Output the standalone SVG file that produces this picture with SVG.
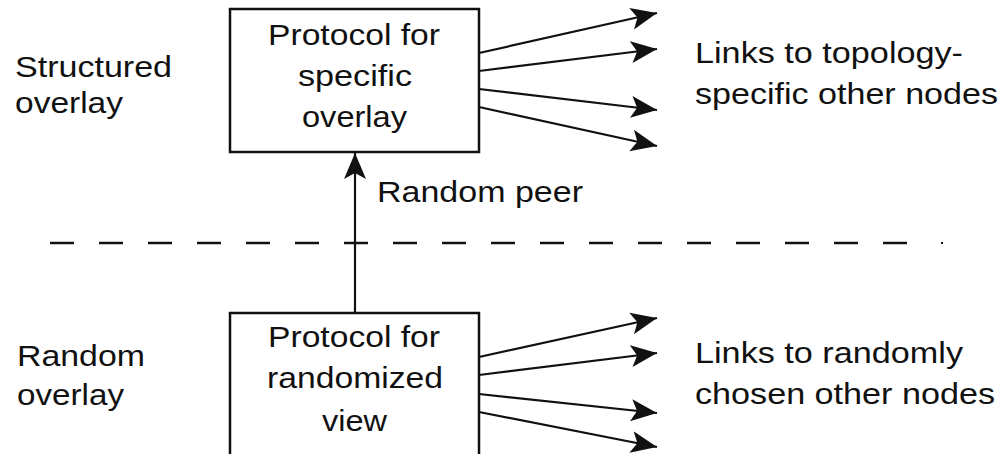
<svg xmlns="http://www.w3.org/2000/svg" width="1005" height="454" viewBox="0 0 1005 454">
<style>
  text { font-family: "Liberation Sans", Arial, sans-serif; font-size: 30px; fill: #111; }
  .box { fill: #fff; stroke: #111; stroke-width: 2.5; }
  .link { stroke: #111; stroke-width: 2.2; fill: none; marker-end: url(#ah); }
  .dash { stroke: #111; stroke-width: 2.5; stroke-dasharray: 24 25; fill: none; }
</style>
<defs>
  <marker id="ah" markerUnits="userSpaceOnUse" markerWidth="28" markerHeight="24" viewBox="0 0 28 24" refX="26" refY="12" orient="auto">
    <path d="M0,1 L26,12 L0,23 L6,12 z" fill="#111"/>
  </marker>
</defs>
<rect width="1005" height="454" fill="#fff"/>

<g id="label-structured">
  <text x="15" y="77" textLength="157" lengthAdjust="spacingAndGlyphs">Structured</text>
  <text x="15" y="113" textLength="108" lengthAdjust="spacingAndGlyphs">overlay</text>
</g>
<g id="label-random">
  <text x="17" y="366" textLength="128" lengthAdjust="spacingAndGlyphs">Random</text>
  <text x="17" y="405" textLength="107" lengthAdjust="spacingAndGlyphs">overlay</text>
</g>

<g id="node-specific">
  <rect class="box" x="230" y="9" width="249" height="143"/>
  <text x="268" y="45" textLength="172" lengthAdjust="spacingAndGlyphs">Protocol for</text>
  <text x="298" y="86" textLength="114" lengthAdjust="spacingAndGlyphs">specific</text>
  <text x="302" y="127" textLength="105" lengthAdjust="spacingAndGlyphs">overlay</text>
</g>

<g id="node-random">
  <rect class="box" x="230" y="313" width="249" height="150"/>
  <text x="268" y="347" textLength="172" lengthAdjust="spacingAndGlyphs">Protocol for</text>
  <text x="267" y="388" textLength="176" lengthAdjust="spacingAndGlyphs">randomized</text>
  <text x="322" y="431" textLength="65" lengthAdjust="spacingAndGlyphs">view</text>
</g>

<g id="label-links-top">
  <text x="695" y="63" textLength="268" lengthAdjust="spacingAndGlyphs">Links to topology-</text>
  <text x="695" y="104" textLength="303" lengthAdjust="spacingAndGlyphs">specific other nodes</text>
</g>
<g id="label-links-bottom">
  <text x="695" y="363" textLength="268" lengthAdjust="spacingAndGlyphs">Links to randomly</text>
  <text x="695" y="404" textLength="300" lengthAdjust="spacingAndGlyphs">chosen other nodes</text>
</g>

<g id="label-random-peer">
  <text x="377" y="202" textLength="206" lengthAdjust="spacingAndGlyphs">Random peer</text>
</g>

<g id="connectors">
  <line class="dash" x1="50" y1="243" x2="930" y2="243"/>
  <line x1="941" y1="243" x2="943" y2="243" stroke="#111" stroke-width="2"/>
  <line class="link" x1="355" y1="313" x2="355" y2="153"/>
  <line class="link" x1="479" y1="53" x2="657" y2="13"/>
  <line class="link" x1="479" y1="71" x2="657" y2="49"/>
  <line class="link" x1="479" y1="89" x2="657" y2="110"/>
  <line class="link" x1="479" y1="107" x2="657" y2="146"/>
  <line class="link" x1="479" y1="357" x2="657" y2="318"/>
  <line class="link" x1="479" y1="375" x2="657" y2="353"/>
  <line class="link" x1="479" y1="394" x2="657" y2="413"/>
  <line class="link" x1="479" y1="412" x2="657" y2="447"/>
</g>
</svg>
